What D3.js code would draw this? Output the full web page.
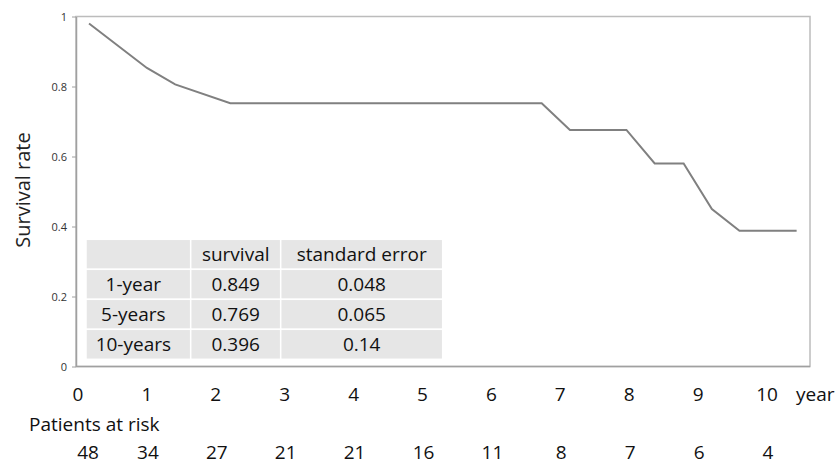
<!DOCTYPE html>
<html>
<head>
<meta charset="utf-8">
<script src="https://cdn.jsdelivr.net/npm/d3@7"></script>
<style>
  body { margin: 0; background: #fff; }
  text { font-family: "Open Sans", "Noto Sans", sans-serif; }
</style>
</head>
<body>
<script>
// survival curve
var years = [0.16, 1.0, 1.41, 2.21, 6.73, 7.14, 7.96, 8.37, 8.79, 9.2, 9.6, 10.43];
var survival = [0.98, 0.853, 0.806, 0.752, 0.752, 0.676, 0.676, 0.58, 0.58, 0.45, 0.388, 0.388];

var yTicks = [0, 0.2, 0.4, 0.6, 0.8, 1];
var yearLabels = [0, 1, 2, 3, 4, 5, 6, 7, 8, 9, 10];
var atRisk = [48, 34, 27, 21, 21, 16, 11, 8, 7, 6, 4];

// summary table
var tableHead = ["", "survival", "standard error"];
var tableRows = ["1-year", "5-years", "10-years"];
var tableSurv = ["0.849", "0.769", "0.396"];
var tableSE = ["0.048", "0.065", "0.14"];

var W = 838, H = 467;
var PLOT_L = 76, PLOT_R = 810, PLOT_T = 16.5, PLOT_B = 366.5;
var FS = "19px";

var svg = d3.select("body").append("svg")
    .attr("width", W)
    .attr("height", H);

var x = d3.scaleLinear().domain([0, 10]).range([78, 767]);
var y = d3.scaleLinear().domain([0, 1]).range([PLOT_B, PLOT_T]);

// frame
svg.append("rect")
    .attr("x", PLOT_L).attr("y", PLOT_T)
    .attr("width", PLOT_R - PLOT_L).attr("height", PLOT_B - PLOT_T)
    .style("fill", "none")
    .style("stroke", "#bcbcbc")
    .style("stroke-width", 1.5);

// y axis
var yAxis = svg.append("g")
    .attr("transform", "translate(" + PLOT_L + ",0)")
    .call(d3.axisLeft(y).tickValues(yTicks).tickSize(4).tickSizeOuter(0)
        .tickFormat(function(d) { return d3.format("")(d); }));
yAxis.select(".domain").style("stroke", "#a0a0a0").style("stroke-width", 1.5);
yAxis.selectAll(".tick line").style("stroke", "#a0a0a0");
yAxis.selectAll(".tick text")
    .attr("x", -9)
    .style("font-size", "11px")
    .style("fill", "#333");

// bottom line
svg.append("line")
    .attr("x1", PLOT_L).attr("x2", PLOT_R)
    .attr("y1", PLOT_B).attr("y2", PLOT_B)
    .style("stroke", "#a0a0a0")
    .style("stroke-width", 1.5);

svg.append("text")
    .attr("transform", "translate(30,190) rotate(-90)")
    .attr("text-anchor", "middle")
    .style("font-size", "20px")
    .style("fill", "#222")
    .text("Survival rate");

// curve
var line = d3.line()
    .x(function(d, i) { return x(years[i]); })
    .y(function(d) { return y(d); });

svg.append("path")
    .datum(survival)
    .attr("d", line)
    .style("fill", "none")
    .style("stroke", "#808080")
    .style("stroke-width", 2);

// table
var colEdges = [86, 190.7, 280.7, 442.7];
var rowTop = 239.3, rowH = 30;
var cells = [tableHead];
tableRows.forEach(function(r, i) { cells.push([r, tableSurv[i], tableSE[i]]); });

var tbl = svg.append("g");
cells.forEach(function(row, ri) {
    row.forEach(function(txt, ci) {
        var cx0 = colEdges[ci], cx1 = colEdges[ci + 1];
        var cy0 = rowTop + ri * rowH;
        tbl.append("rect")
            .attr("x", cx0).attr("y", cy0)
            .attr("width", cx1 - cx0).attr("height", rowH)
            .style("fill", "#e6e6e6")
            .style("stroke", "#fff")
            .style("stroke-width", 1.5);
        tbl.append("text")
            .attr("x", (cx0 + cx1) / 2 - (ci == 0 ? 5 : 0))
            .attr("y", cy0 + rowH / 2)
            .attr("dy", "0.35em")
            .attr("text-anchor", "middle")
            .style("font-size", FS)
            .style("fill", "#111")
            .text(txt);
    });
});

// year labels under the plot
svg.append("g").selectAll("text")
    .data(yearLabels)
    .enter().append("text")
    .attr("x", function(d) { return x(d); })
    .attr("y", 394)
    .attr("dy", "0.35em")
    .attr("text-anchor", "middle")
    .style("font-size", FS)
    .style("fill", "#111")
    .text(function(d) { return d; });

svg.append("text")
    .attr("x", 796).attr("y", 394)
    .attr("dy", "0.35em")
    .style("font-size", FS)
    .style("fill", "#111")
    .text("year");

svg.append("text")
    .attr("x", 29).attr("y", 424)
    .attr("dy", "0.35em")
    .style("font-size", FS)
    .style("fill", "#111")
    .text("Patients at risk");

svg.append("g").selectAll("text")
    .data(atRisk)
    .enter().append("text")
    .attr("x", function(d, i) { return x(yearLabels[i]) + (i == 0 ? 10 : 1); })
    .attr("y", 452)
    .attr("dy", "0.35em")
    .attr("text-anchor", "middle")
    .style("font-size", FS)
    .style("fill", "#111")
    .text(function(d) { return d; });
</script>
</body>
</html>
